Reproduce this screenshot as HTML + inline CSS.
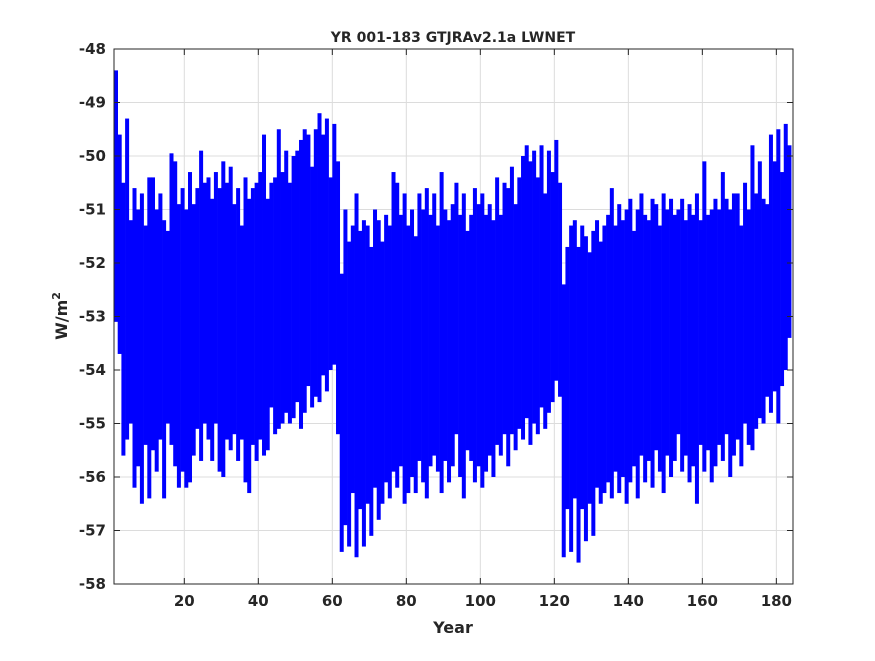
<!DOCTYPE html>
<html><head><meta charset="utf-8"><style>
body{margin:0;background:#fff;}
svg text{font-family:"DejaVu Sans","Liberation Sans",sans-serif;font-weight:bold;fill:#262626;}
</style></head><body>
<svg width="875" height="656" xmlns="http://www.w3.org/2000/svg">
<rect width="875" height="656" fill="#fff"/>
<g id="grid"></g>
<g id="series"></g>
<rect x="114" y="49" width="679" height="535" fill="none" stroke="#262626" stroke-width="1"/>
<g id="ticks"></g>
<text x="453" y="42" text-anchor="middle" font-size="14">YR 001-183 GTJRAv2.1a LWNET</text>
<text x="453" y="633" text-anchor="middle" font-size="16">Year</text>
<text transform="translate(67,316) rotate(-90)" text-anchor="middle" font-size="16">W/m<tspan dy="-7" font-size="11">2</tspan></text>
</svg>
<script>
const xTicks=[20,40,60,80,100,120,140,160,180];
const yTicks=[-48,-49,-50,-51,-52,-53,-54,-55,-56,-57,-58];
const maxV=[-48.4,-49.6,-50.5,-49.3,-51.2,-50.6,-51.0,-50.7,-51.3,-50.4,
-50.4,-51.0,-50.7,-51.2,-51.4,-49.95,-50.1,-50.9,-50.6,-51.0,
-50.3,-50.9,-50.6,-49.9,-50.5,-50.4,-50.8,-50.3,-50.6,-50.1,
-50.5,-50.2,-50.9,-50.6,-51.3,-50.4,-50.8,-50.6,-50.5,-50.3,
-49.6,-50.8,-50.5,-50.4,-49.5,-50.3,-49.9,-50.5,-50.0,-49.9,
-49.7,-49.5,-49.6,-50.2,-49.5,-49.2,-49.6,-49.3,-50.4,-49.4,
-50.1,-52.2,-51.0,-51.6,-51.3,-50.7,-51.4,-51.2,-51.3,-51.7,
-51.0,-51.2,-51.6,-51.1,-51.3,-50.3,-50.5,-51.1,-50.7,-51.3,
-51.0,-51.5,-50.7,-51.0,-50.6,-51.1,-50.7,-51.3,-50.3,-51.0,
-51.2,-50.9,-50.5,-51.1,-50.7,-51.4,-51.1,-50.6,-50.9,-50.7,
-51.1,-50.9,-51.2,-50.4,-51.1,-50.5,-50.6,-50.2,-50.9,-50.4,
-50.0,-49.8,-50.1,-49.9,-50.4,-49.8,-50.7,-49.9,-50.3,-49.7,
-50.5,-52.4,-51.7,-51.3,-51.2,-51.7,-51.3,-51.5,-51.8,-51.4,
-51.2,-51.6,-51.3,-51.1,-50.6,-51.3,-50.9,-51.2,-51.0,-50.8,
-51.4,-51.0,-50.7,-51.1,-51.2,-50.8,-50.9,-51.3,-50.7,-51.0,
-50.8,-51.1,-51.0,-50.8,-51.2,-50.9,-51.1,-50.7,-51.2,-50.1,
-51.1,-51.0,-50.8,-51.0,-50.3,-50.8,-51.0,-50.7,-50.7,-51.3,
-50.5,-51.0,-49.8,-50.7,-50.1,-50.8,-50.9,-49.6,-50.1,-49.5,
-50.3,-49.4,-49.8];
const minV=[-53.1,-53.7,-55.6,-55.3,-55.0,-56.2,-55.8,-56.5,-55.4,-56.4,
-55.5,-55.9,-55.3,-56.4,-55.0,-55.4,-55.8,-56.2,-55.9,-56.2,
-56.1,-55.6,-55.1,-55.7,-55.0,-55.3,-55.7,-55.0,-55.9,-56.0,
-55.3,-55.5,-55.2,-55.7,-55.3,-56.1,-56.3,-55.4,-55.7,-55.3,
-55.6,-55.5,-54.7,-55.2,-55.1,-55.0,-54.8,-55.0,-54.9,-54.6,
-55.1,-54.8,-54.3,-54.7,-54.5,-54.6,-54.1,-54.4,-54.0,-53.9,
-55.2,-57.4,-56.9,-57.3,-56.3,-57.5,-56.6,-57.3,-56.5,-57.1,
-56.2,-56.8,-56.5,-56.1,-56.4,-55.9,-56.2,-55.8,-56.5,-56.3,
-56.0,-56.3,-55.7,-56.1,-56.4,-55.8,-55.6,-55.9,-56.3,-55.7,
-56.1,-55.8,-55.2,-56.0,-56.4,-55.5,-55.7,-56.1,-55.8,-56.2,
-55.9,-55.6,-56.0,-55.4,-55.6,-55.2,-55.8,-55.2,-55.5,-55.1,
-55.3,-54.9,-55.4,-55.0,-55.2,-54.7,-55.1,-54.8,-54.6,-54.2,
-54.5,-57.5,-56.6,-57.4,-56.4,-57.6,-56.6,-57.2,-56.5,-57.1,
-56.2,-56.5,-56.3,-56.1,-56.4,-55.9,-56.3,-56.0,-56.5,-56.1,
-55.8,-56.4,-55.6,-56.1,-55.7,-56.2,-55.5,-55.9,-56.3,-55.6,
-56.0,-55.7,-55.2,-55.9,-55.6,-56.1,-55.8,-56.5,-55.4,-55.9,
-55.5,-56.1,-55.8,-55.4,-55.7,-55.2,-56.0,-55.6,-55.3,-55.8,
-55.0,-55.4,-55.5,-55.1,-54.9,-55.0,-54.5,-54.8,-54.4,-55.0,
-54.3,-54.0,-53.4];
const NS="http://www.w3.org/2000/svg";
const X0=114,X1=793,Y0=49,Y1=584,XMIN=1,XMAX=184.5,YMIN=-58,YMAX=-48;
function xs(v){return X0+(v-XMIN)/(XMAX-XMIN)*(X1-X0);}
function ys(v){return Y0+(YMAX-v)/(YMAX-YMIN)*(Y1-Y0);}
function mk(t,a,p){const e=document.createElementNS(NS,t);for(const k in a)e.setAttribute(k,a[k]);p.appendChild(e);return e;}
const grid=document.getElementById('grid'),ticks=document.getElementById('ticks'),ser=document.getElementById('series');
xTicks.forEach(t=>{const x=xs(t);
const g=mk('line',{x1:x,x2:x,y1:Y0,y2:Y1,stroke:'#dcdcdc','stroke-width':1},grid);

const l=mk('line',{x1:x,x2:x,y1:Y1,y2:Y1-6,stroke:'#262626'},ticks);

const l2=mk('line',{x1:x,x2:x,y1:Y0,y2:Y0+6,stroke:'#262626'},ticks);

const tx=mk('text',{x:x,y:Y1+22,'text-anchor':'middle','font-size':15},ticks);tx.textContent=t;
});
yTicks.forEach(t=>{const y=ys(t);
const g=mk('line',{x1:X0,x2:X1,y1:y,y2:y,stroke:'#dcdcdc','stroke-width':1},grid);

const l=mk('line',{x1:X0,x2:X0+6,y1:y,y2:y,stroke:'#262626'},ticks);

const l2=mk('line',{x1:X1,x2:X1-6,y1:y,y2:y,stroke:'#262626'},ticks);

const tx=mk('text',{x:X0-8,y:y+5,'text-anchor':'end','font-size':15},ticks);tx.textContent=t;
});
maxV.forEach((m,i)=>{const yr=i+1;
const x=xs(yr),w=xs(yr+1)-x+0.3;
const r=mk('rect',{x:x,y:ys(m),width:w,height:ys(minV[i])-ys(m),fill:'#0000ff'},ser);

});
</script>
</body></html>
